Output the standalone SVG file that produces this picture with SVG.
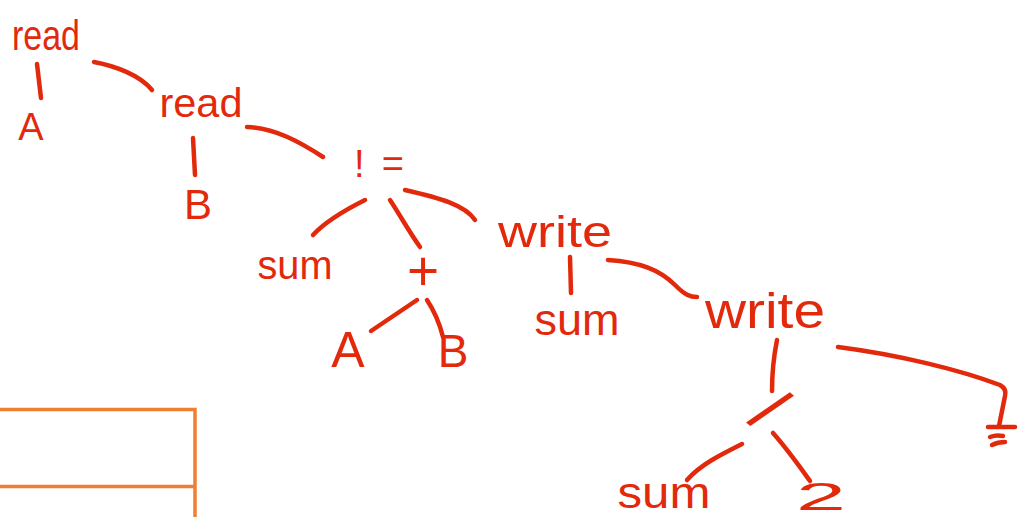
<svg xmlns="http://www.w3.org/2000/svg" width="1019" height="517" viewBox="0 0 1019 517">
<style>
.t{font-family:"Liberation Sans","DejaVu Sans",sans-serif;fill:#e3290b;text-anchor:middle}
.c{fill:none;stroke:#e3290b;stroke-width:4.5;stroke-linecap:round;stroke-linejoin:round}
.box{fill:none;stroke:#ee7f33;stroke-width:3.5}
</style>
<rect width="1019" height="517" fill="#ffffff"/>
<g id="panel">
<path class="box" d="M0,409.5 H195 V517 M0,486.5 H195"/>
</g>
<g id="connectors">
<path class="c" d="M37,64 L41,98"/>
<path class="c" d="M94,62 C115,66 140,75 152,90"/>
<path class="c" d="M193,138 L195,175"/>
<path class="c" d="M247,127 C275,128 300,142 323,157"/>
<path class="c" d="M365,200 C345,210 325,222 313,235"/>
<path class="c" d="M390,200 C400,215 408,230 420,247"/>
<path class="c" d="M405,190 C440,198 465,205 475,220"/>
<path class="c" d="M417,300 L371,331"/>
<path class="c" d="M427,300 C435,312 440,325 443,337"/>
<path class="c" d="M570,257 L571,293"/>
<path class="c" d="M608,260 C640,262 660,270 675,285 C685,295 690,297 697,297"/>
<path class="c" d="M777,340 C773,360 772,375 772,391"/>
<path class="c" d="M742,444 C720,455 700,465 687,480"/>
<path class="c" d="M773,433 C788,450 800,467 810,481"/>
<path class="c" d="M838,347 C900,355 960,370 1000,385 Q1007,389 1005,396 L999,426"/>
<path class="c" d="M988,427 L1015,427 M990,437 C995,435 999,435 1003,436 M992,445 C996,443 1000,442 1005,442"/>
</g>
<g id="n-read1"><text class="t" x="46" y="50" font-size="42" textLength="68" lengthAdjust="spacingAndGlyphs">read</text></g>
<g id="n-A1"><text class="t" x="31" y="140" font-size="38">A</text></g>
<g id="n-read2"><text class="t" x="201" y="117" font-size="40" textLength="83" lengthAdjust="spacingAndGlyphs">read</text></g>
<g id="n-B1"><text class="t" x="198" y="219" font-size="42">B</text></g>
<g id="n-assign"><text class="t" x="379" y="177" font-size="38" textLength="50" lengthAdjust="spacing">!=</text></g>
<g id="n-sum1"><text class="t" x="295" y="279" font-size="40" textLength="75" lengthAdjust="spacingAndGlyphs">sum</text></g>
<g id="n-plus"><text class="t" x="423" y="290" font-size="55">+</text></g>
<g id="n-A2"><text class="t" x="348" y="367" font-size="50">A</text></g>
<g id="n-B2"><text class="t" x="453" y="367" font-size="46">B</text></g>
<g id="n-write1"><text class="t" x="555" y="247" font-size="44" textLength="114" lengthAdjust="spacingAndGlyphs">write</text></g>
<g id="n-sum2"><text class="t" x="577" y="335" font-size="44" textLength="85" lengthAdjust="spacingAndGlyphs">sum</text></g>
<g id="n-write2"><text class="t" x="765" y="328" font-size="50" textLength="120" lengthAdjust="spacingAndGlyphs">write</text></g>
<g id="n-div"><text class="t" transform="translate(770,409) rotate(40)" x="0" y="25" font-size="70">/</text></g>
<g id="n-sum3"><text class="t" x="664" y="508" font-size="44" textLength="93" lengthAdjust="spacingAndGlyphs">sum</text></g>
<g id="n-two"><text class="t" x="821" y="510" font-size="38" textLength="50" lengthAdjust="spacingAndGlyphs">2</text></g>
</svg>
